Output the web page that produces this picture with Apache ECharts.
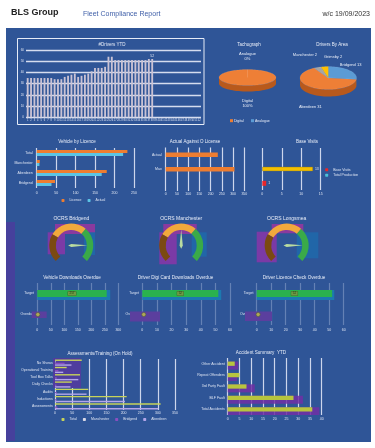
<!DOCTYPE html>
<html>
<head>
<meta charset="utf-8">
<script src="https://cdn.jsdelivr.net/npm/echarts@6/dist/echarts.min.js"></script>
<style>
html,body{margin:0;padding:0;background:#fff}
#main{width:375px;height:448px}
</style>
</head>
<body>
<div id="main"></div>
<script>
// ---- data ----
var weeks = [];
for (var w = 1; w <= 52; w++) weeks.push(String(w));
var driversYtd = [35,35,35,35,35,35,35,35,34,34,34,36,37,38,39,36,37,38,39,41,44,44,44,45,54,54,51,51,51,51,51,51,51,51,51,51,52,52];

var tachoNames = ['Digital', 'Analogue'];
var tachoValues = [100, 0];
var areaNames = ['Bridgend', 'Aberdeen', 'Manchester', 'Grimsby'];
var areaValues = [13, 31, 2, 2];

var licenceCats = ['Total', 'Manchester', 'Aberdeen', 'Bridgend'];
var licenceValues = [233, 8, 180, 47];
var actualValues = [222, 7, 167, 38];

var oLicenceCats = ['Actual', 'Max', ''];
var oLicenceValues = [232, 306, '-'];

var baseCats = ['', 'Total Production', 'Base Visits'];
var totalProduction = ['-', 13, '-'];
var baseVisits = ['-', '-', 1];

var gaugeNames = ['OCRS Bridgend', 'OCRS Manchester', 'OCRS Longsmea'];
var gaugeValues = [83, 50, 83];

var bulletTitles = ['Vehicle Downloads Overdue', 'Driver Digi Card Downloads Overdue', 'Driver Licence Check Overdue'];
var bulletCats = ['Target', 'Overdue'];
var bulletMax = [300, 60, 60];
var bulletStep = [50, 10, 10];
var bulletBand = [270, 54, 53.5];
var bulletBar = [257, 52, 52];
var bulletOverdue = [2, 1, 1];

var assessCats = ['No Shows', 'Operational Training', 'Tool Box Talks', 'Daily Checks', 'Audits', 'Inductions', 'Assessments'];
var assessTotal = [78, 34, 73, 49, 97, 209, 308];
var assessManchester = [2, 0, 0, 0, 0, 0, 0];
var assessBridgend = [28, 10, 5, 4, 5, 5, 7];
var assessAberdeen = [48, 24, 68, 45, 92, 204, 301];

var accidentCats = ['Other Accident', 'Repeat Offenders', '3rd Party Fault', 'BLF Fault', 'Total Accidents'];
var accidentValues = [3, 5, 8, 28, 36];
var accidentPrev = [4.5, 4, 11.5, 32, 39];

// ---- styling helpers ----
var font = '"Liberation Sans", Arial, sans-serif';
var labelColor = '#dce3f2';
var chart = echarts.init(document.getElementById('main'));

function txt(text, x, y, size, extra) {
    return {
        type: 'text', x: x, y: y, z: 50, silent: true,
        style: Object.assign({
            text: text, fill: '#e8edf8',
            font: size + 'px ' + font,
            align: 'center', textAlign: 'center',
            verticalAlign: 'middle', textVerticalAlign: 'middle'
        }, extra || {})
    };
}
function box(x, y, w, h, color, z) {
    return { type: 'rect', silent: true, z: z || 1, shape: { x: x, y: y, width: w, height: h }, style: { fill: color } };
}
function valAxis(grid, max, interval, gridColor, margin) {
    return {
        type: 'value', gridIndex: grid, min: 0, max: max, interval: interval,
        axisLine: { show: false }, axisTick: { show: false },
        axisLabel: { color: labelColor, fontSize: 3.5, fontFamily: font, margin: margin },
        splitLine: { show: true, lineStyle: { color: gridColor || '#cdd6ec', width: 1.2 } }
    };
}
function catAxis(grid, data, margin, hide) {
    return {
        type: 'category', gridIndex: grid, data: data, inverse: true,
        axisLine: { show: false }, axisTick: { show: false },
        axisLabel: { show: !hide, color: labelColor, fontSize: 3.5, fontFamily: font, margin: margin }
    };
}

// 3D-looking pie drawn by a custom series
function pie3d(names, values, colors, sides, geo, fmt, nudge) {
    var total = values.reduce(function(a, b) { return a + b; }, 0);
    var starts = [], acc = 0;
    values.forEach(function(v) { starts.push(acc / total * 360); acc += v; });
    function pt(deg, dy) {
        var r = deg * Math.PI / 180;
        return [geo.cx + geo.rx * Math.sin(r), geo.cy - geo.ry * Math.cos(r) + (dy || 0)];
    }
    return function(params, api) {
        var i = params.dataIndex;
        var a0 = starts[i], a1 = a0 + values[i] / total * 360;
        var children = [];
        var f0 = Math.max(a0, 90), f1 = Math.min(a1, 270);
        if (f1 > f0) {
            var top = [], bot = [];
            for (var k = 0; k <= 40; k++) {
                var d = f0 + (f1 - f0) * k / 40;
                top.push(pt(d));
                bot.unshift(pt(d, geo.h));
            }
            children.push({ type: 'polygon', shape: { points: top.concat(bot) }, style: { fill: sides[i] } });
        }
        if (a1 > a0) {
            var face = [[geo.cx, geo.cy]];
            var n = Math.max(2, Math.ceil((a1 - a0) / 3));
            for (var j = 0; j <= n; j++) face.push(pt(a0 + (a1 - a0) * j / n));
            children.push({ type: 'polygon', shape: { points: face }, style: { fill: colors[i], stroke: 'rgba(255,255,255,0.25)', lineWidth: 0.3 } });
        }
        var mid = (a0 + a1) / 2 * Math.PI / 180;
        var lx = geo.cx + (geo.rx + 4) * Math.sin(mid) + nudge[i][0];
        var ly = geo.cy - (geo.ry + 9) * Math.cos(mid) + (Math.cos(mid) < 0 ? geo.h : 0) + nudge[i][1];
        children.push({
            type: 'text', x: lx, y: ly,
            style: { text: fmt(names[i], values[i], total), fill: '#e8edf8', font: '4px ' + font, align: 'center', verticalAlign: 'middle', lineHeight: 5 }
        });
        return { type: 'group', children: children };
    };
}

// ---- layout pieces ----
var graphics = [
    box(0, 0, 375, 448, '#ffffff', -10),
    box(6, 28, 365, 414, '#2f5597', -9),
    box(6, 222, 9, 219, '#46409c', -8),
    { type: 'rect', silent: true, z: 3, shape: { x: 17.5, y: 38.5, width: 186.5, height: 86 }, style: { fill: 'none', stroke: '#e6ecf7', lineWidth: 1 } },
    // purple / teal panels behind gauges
    box(47.7, 232.3, 17.3, 22, '#7b3aa6'), box(55, 224, 40, 10, '#8a3a9e'), box(84, 232.3, 11, 22.7, '#2166a8'),
    box(159.3, 232.3, 17.4, 32, '#7b3aa6'), box(163.3, 224, 33.4, 10, '#8a3a9e'), box(191.7, 232.3, 15, 24.4, '#2166a8'),
    box(256.7, 231.7, 20, 30.6, '#7b3aa6'), box(271.7, 224, 31.6, 9.3, '#8a3a9e'), box(296.7, 232.3, 21.6, 26, '#2166a8'),
    // purple bands behind overdue rows
    box(31.7, 311.5, 15, 6.5, '#5b3f9e'), box(130, 311.5, 30, 10, '#5b3f9e'), box(245, 311.5, 27, 9.5, '#5b3f9e'),
    box(53, 358, 28, 30, '#4f3d9e'),
    // header
    txt('BLS Group', 11, 13, 9, { fill: '#222', font: 'bold 9px ' + font, align: 'left', textAlign: 'left' }),
    txt('Fleet Compliance Report', 83, 14.5, 7, { fill: '#3f5fa8', align: 'left', textAlign: 'left' }),
    txt('w/c 19/09/2023', 370, 14.5, 7, { fill: '#333', align: 'right', textAlign: 'right' }),
    // titles
    txt('#Drivers YTD', 112, 45, 4.5),
    txt('Tachograph', 249, 45, 4.5),
    txt('Drivers By Area', 332, 45, 4.5),
    txt('Vehicle by Licence', 77, 142, 4.5),
    txt('Actual Against O License', 195, 142, 4.5),
    txt('Base Visits', 307, 142, 4.5),
    txt('Assessments/Training (On Hold)', 100, 353.3, 4.5),
    txt('Accident Summary  YTD', 261, 352.3, 4.6)
];
var gaugeX = [71.3, 181.2, 286.7];
gaugeNames.forEach(function(n, i) { graphics.push(txt(n, gaugeX[i], 219, 5)); });
var bulletTitleX = [72, 175.5, 294];
bulletTitles.forEach(function(n, i) { graphics.push(txt(n, bulletTitleX[i], 277.3, 4.6)); });

var tachoColors = ['#ed7d31', '#5b9bd5'];
var tachoLegendX = [231.5, 252.5];
tachoNames.forEach(function(n, i) {
    graphics.push(box(tachoLegendX[i] - 1.5, 119.2, 3, 3, tachoColors[i], 5));
    graphics.push(txt(n, tachoLegendX[i] + 2.5, 120.8, 3.5, { align: 'left', textAlign: 'left' }));
});

// grids: drivers, licence, O licence, base, 3 bullets, assessments, accidents
var grids = [
    { left: 26, top: 50, width: 175, height: 67.3 },
    { left: 36.7, top: 148, width: 97.3, height: 40 },
    { left: 165.7, top: 147.5, width: 78.6, height: 43.5 },
    { left: 262.3, top: 148, width: 58.4, height: 42 },
    { left: 37.3, top: 283, width: 81, height: 42 },
    { left: 142.3, top: 283, width: 87.7, height: 42 },
    { left: 256.7, top: 283, width: 87, height: 42 },
    { left: 55, top: 359, width: 120, height: 51 },
    { left: 227.7, top: 358, width: 94, height: 57 }
];

var xAxes = [
    {
        type: 'category', gridIndex: 0, data: weeks,
        axisLine: { show: false }, axisTick: { show: false },
        axisLabel: { color: labelColor, fontSize: 2.6, fontFamily: font, interval: 0, margin: 1.5 }
    },
    valAxis(1, 250, 50, null, 3),
    valAxis(2, 350, 50, null, 1.5),
    valAxis(3, 15, 5, null, 2),
    valAxis(4, bulletMax[0], bulletStep[0], 'rgba(200,212,238,0.35)', 3),
    valAxis(5, bulletMax[1], bulletStep[1], 'rgba(200,212,238,0.35)', 3),
    valAxis(6, bulletMax[2], bulletStep[2], 'rgba(200,212,238,0.35)', 3),
    valAxis(7, 350, 50, null, 1.5),
    valAxis(8, 40, 5, null, 2.2)
];
var yAxes = [
    {
        type: 'value', gridIndex: 0, min: 0, max: 60, interval: 10,
        axisLine: { show: false }, axisTick: { show: false },
        axisLabel: { color: labelColor, fontSize: 3, fontFamily: font, margin: 2 },
        splitLine: { lineStyle: { color: '#d6ddef', width: 1.4 } }
    },
    catAxis(1, licenceCats, 4),
    catAxis(2, oLicenceCats, 4),
    catAxis(3, baseCats, 3, true),
    catAxis(4, bulletCats, 3.3),
    catAxis(5, bulletCats, 3.3),
    catAxis(6, bulletCats, 3.3),
    catAxis(7, assessCats, 2.3),
    catAxis(8, accidentCats, 3)
];

var smallLabel = { show: true, position: 'right', color: labelColor, fontSize: 3.5, fontFamily: font, distance: 2 };

var series = [
    {
        type: 'bar', xAxisIndex: 0, yAxisIndex: 0, barWidth: '55%',
        itemStyle: { color: '#c9c2d4' },
        data: driversYtd.map(function(v, i) {
            return i === driversYtd.length - 1
                ? { value: v, label: { show: true, position: 'top', color: labelColor, fontSize: 3.5, distance: 1 } }
                : v;
        })
    },
    { name: 'Licence', type: 'bar', xAxisIndex: 1, yAxisIndex: 1, barWidth: 3, barGap: '0%', itemStyle: { color: '#ed7d31' }, data: licenceValues },
    { name: 'Actual', type: 'bar', xAxisIndex: 1, yAxisIndex: 1, barWidth: 3, barGap: '0%', itemStyle: { color: '#5bc4e6' }, data: actualValues },
    { type: 'bar', xAxisIndex: 2, yAxisIndex: 2, barWidth: 4.5, itemStyle: { color: '#ed7d31' }, data: oLicenceValues },
    { name: 'Base Visits', type: 'bar', xAxisIndex: 3, yAxisIndex: 3, barWidth: 5, barGap: '-100%', itemStyle: { color: '#e8262a' }, label: smallLabel, data: baseVisits },
    {
        name: 'Total Production', type: 'bar', xAxisIndex: 3, yAxisIndex: 3, barWidth: 4.3, barGap: '-100%',
        itemStyle: { color: '#4bc0d9' }, label: smallLabel,
        data: totalProduction.map(function(v) { return v === '-' ? v : { value: v, itemStyle: { color: '#f5c000', borderColor: '#8a7a20', borderWidth: 0.4 } }; })
    }
];

bulletBand.forEach(function(v, i) {
    series.push({ type: 'bar', xAxisIndex: 4 + i, yAxisIndex: 4 + i, barWidth: 10, barGap: '-100%', itemStyle: { color: '#1c79b0' }, data: [v, '-'] });
    series.push({
        type: 'bar', xAxisIndex: 4 + i, yAxisIndex: 4 + i, barWidth: 7, barGap: '-100%', itemStyle: { color: '#2ab24e' },
        label: { show: true, position: 'inside', fontSize: 3, color: '#1b3a16', backgroundColor: '#6e9a44', padding: [0.5, 1.5], borderColor: '#3d5e25', borderWidth: 0.4 },
        data: [bulletBar[i], '-']
    });
    series.push({
        type: 'scatter', xAxisIndex: 4 + i, yAxisIndex: 4 + i, symbol: 'circle', symbolSize: 4,
        itemStyle: { color: '#c6c24a', borderColor: '#4a6a20', borderWidth: 0.6 },
        data: [[bulletOverdue[i], 1]]
    });
});

[['Total', assessTotal, '#c6d35a'], ['Manchester', assessManchester, '#d9d9e6'], ['Bridgend', assessBridgend, '#8a4fc0'], ['Aberdeen', assessAberdeen, '#b3a6ea']].forEach(function(s) {
    series.push({ name: s[0], type: 'bar', xAxisIndex: 7, yAxisIndex: 7, barWidth: 1.4, barGap: '15%', itemStyle: { color: s[2] }, data: s[1] });
});

series.push({ type: 'bar', xAxisIndex: 8, yAxisIndex: 8, barWidth: 8, barGap: '-100%', itemStyle: { color: 'rgba(112,48,165,0.85)' }, data: accidentPrev });
series.push({ type: 'bar', xAxisIndex: 8, yAxisIndex: 8, barWidth: 4.3, barGap: '-100%', itemStyle: { color: '#b7c53e' }, data: accidentValues });

gaugeValues.forEach(function(v, i) {
    series.push({
        type: 'gauge', center: [gaugeX[i], 245.5], radius: 22, startAngle: 225, endAngle: -45, min: 0, max: 100, z: 5,
        axisLine: { lineStyle: { width: 6.5, color: [[0.28, '#7b4a12'], [0.65, '#f1a93c'], [1, '#3aaa48']] } },
        splitLine: { show: false }, axisTick: { show: false }, axisLabel: { show: false },
        pointer: { show: true, length: 16, width: 1.6, itemStyle: { color: '#b9dca0' } },
        anchor: { show: false }, title: { show: false }, detail: { show: false },
        data: [{ value: v, name: gaugeNames[i] }]
    });
});

series.push({
    type: 'custom', coordinateSystem: 'none', z: 5, data: tachoValues,
    renderItem: pie3d(tachoNames, tachoValues, ['#ee7f36', '#5b9bd5'], ['#b8591c', '#3d6fa0'],
        { cx: 247.5, cy: 77.5, rx: 28.5, ry: 8, h: 6 },
        function(n, v, t) { return n + '\n' + Math.round(v / t * 100) + '%'; },
        [[0, 2.5], [0, -4]])
});
series.push({
    type: 'custom', coordinateSystem: 'none', z: 5, data: areaValues,
    renderItem: pie3d(areaNames, areaValues, ['#5b9bd5', '#ee7f36', '#a5a5a5', '#ffc000'], ['#3d6fa0', '#b8591c', '#7a7a7a', '#c49200'],
        { cx: 328.3, cy: 78, rx: 28.3, ry: 11.5, h: 7 },
        function(n, v) { return n + ' ' + v; },
        [[-2, 0], [0, 5], [-11, -4], [9, -1]])
});

var legendText = { color: labelColor, fontSize: 3.5, fontFamily: font };
chart.setOption({
    animation: false,
    graphic: graphics,
    grid: grids,
    xAxis: xAxes,
    yAxis: yAxes,
    legend: [
        { data: ['Licence', 'Actual'], left: 61.5, top: 198.5, itemWidth: 3, itemHeight: 3, itemGap: 6, textStyle: legendText, padding: 0 },
        { data: ['Base Visits', 'Total Production'], orient: 'vertical', left: 325.2, top: 167.8, itemWidth: 3, itemHeight: 3, itemGap: 1.5, textStyle: legendText, padding: 0 },
        { data: ['Total', 'Manchester', 'Bridgend', 'Aberdeen'], left: 61.5, top: 417.5, itemWidth: 3, itemHeight: 3, itemGap: 6, textStyle: legendText, padding: 0 }
    ],
    series: series
});
</script>
</body>
</html>
